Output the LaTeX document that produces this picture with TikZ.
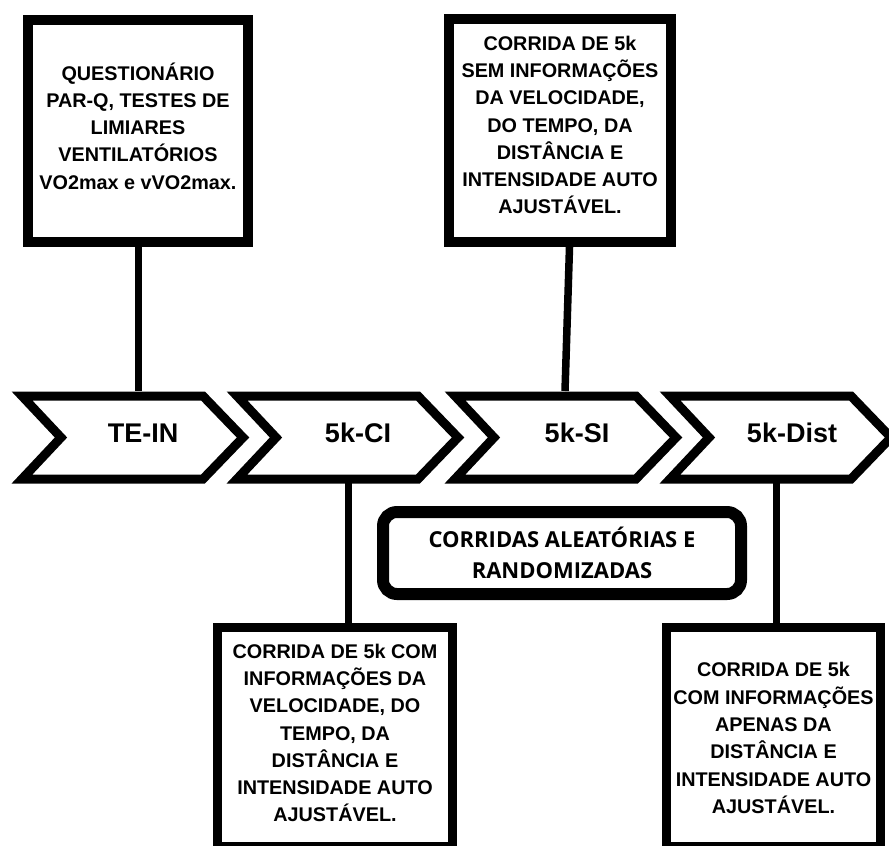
\documentclass[tikz,border=0pt]{standalone}
\usepackage{fontspec}
\setmainfont{Liberation Sans}
\newfontfamily\opensans{Open Sans}
\begin{document}
\begin{tikzpicture}[x=1pt,y=-1pt,
  box/.style={draw=black, line width=10pt, fill=white, inner sep=0pt},
  txt/.style={font=\bfseries\fontsize{19.8}{27.3}\selectfont, align=center, inner sep=0pt, text=black},
  lbl/.style={font=\bfseries\fontsize{27}{32}\selectfont, inner sep=0pt, text=black},
  chev/.style={draw=black, line width=9pt, fill=white, miter limit=10},
  conn/.style={draw=black, line width=7.5pt},
  rbox/.style={draw=black, line width=12pt, rounded corners=14pt, fill=white,
    font=\opensans\bfseries\fontsize{22}{31}\selectfont, align=center, inner sep=0pt}]
\useasboundingbox (0,0) rectangle (889,846);
\clip (0,0) rectangle (889,846);
\fill[white] (0,0) rectangle (889,846);

% top boxes
\node[box, minimum width=220pt, minimum height=222pt] (qa) at (138,131) {};
\node[txt] (qat) at (138,126) {QUESTIONÁRIO\\PAR-Q, TESTES DE\\LIMIARES\\VENTILATÓRIOS\\VO2max e vVO2max.};
\node[box, minimum width=222pt, minimum height=223pt] (qb) at (560,130.5) {};
\node[txt] (qbt) at (560,125) {CORRIDA DE 5k\\SEM INFORMAÇÕES\\DA VELOCIDADE,\\DO TEMPO, DA\\DISTÂNCIA E\\INTENSIDADE AUTO\\AJUSTÁVEL.};

% bottom boxes
\node[box, line width=9pt, minimum width=235pt, minimum height=219pt] (qc) at (335,737) {};
\node[txt] (qct) at (335,733) {CORRIDA DE 5k COM\\INFORMAÇÕES DA\\VELOCIDADE, DO\\TEMPO, DA\\DISTÂNCIA E\\INTENSIDADE AUTO\\AJUSTÁVEL.};
\node[box, line width=9pt, minimum width=214pt, minimum height=219pt] (qd) at (773.5,737) {};
\node[txt] (qdt) at (773.5,738) {CORRIDA DE 5k\\COM INFORMAÇÕES\\APENAS DA\\DISTÂNCIA E\\INTENSIDADE AUTO\\AJUSTÁVEL.};

% chevrons
\foreach \dx in {0,215,433,648}{
  \begin{scope}[xshift=\dx pt]
    \draw[chev] (22,396) -- (203,396) -- (243,437.5) -- (203,479) -- (22,479) -- (61,437.5) -- cycle;
  \end{scope}
}
\node[lbl] (l1) at (143,433) {TE-IN};
\node[lbl] (l2) at (358,433) {5k-CI};
\node[lbl] (l3) at (577,433) {5k-SI};
\node[lbl] (l4) at (792,433) {5k-Dist};

% connector points on chevrons
\coordinate (t1) at (138.5,391);
\coordinate (t3) at (565,391);
\coordinate (b2) at (348.5,483);
\coordinate (b4) at (776.5,483);

\draw[conn] (t1 |- qa.south) -- (t1);
\draw[conn] ([xshift=9.5pt]qb.south) -- (t3);
\draw[conn] (b2) -- (b2 |- qc.north);
\draw[conn] (b4) -- (b4 |- qd.north);

% rounded box
\node[rbox, minimum width=358pt, minimum height=82pt] (r) at (562,553) {CORRIDAS ALEATÓRIAS E\\RANDOMIZADAS};
\end{tikzpicture}
\end{document}
